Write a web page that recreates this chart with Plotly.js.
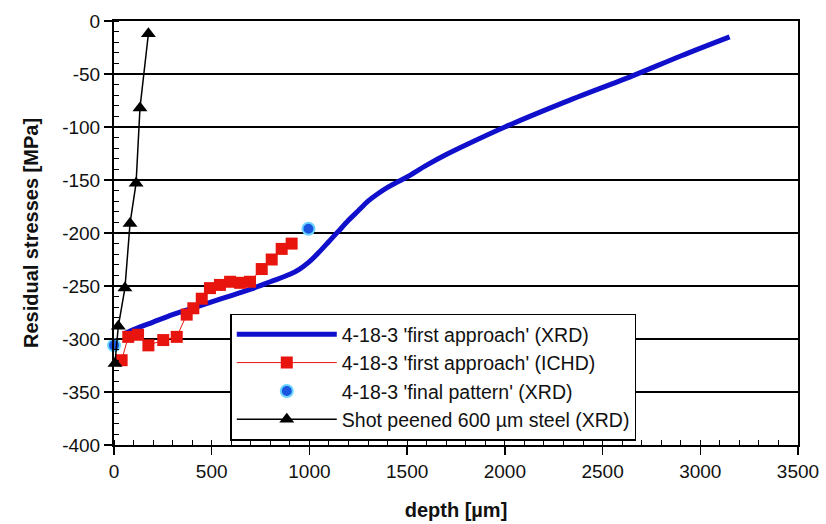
<!DOCTYPE html>
<html>
<head>
<meta charset="utf-8">
<script src="https://cdn.plot.ly/plotly-3.0.1.min.js"></script>
<style>html,body{margin:0;padding:0;background:#fff;}#chart{width:826px;height:524px;}</style>
</head>
<body>
<div id="chart"></div>
<script>
// Blue line: 4-18-3 'first approach' (XRD)
const xrdDepth = [50,100,200,300,400,500,600,700,800,900,950,1000,1050,1100,1150,1200,1250,1300,1350,1400,1450,1500,1600,1700,1800,2000,2300,2650,2900,3150];
const xrdStress = [-295,-291,-284,-277,-271,-265,-259,-253,-246,-239,-234,-227,-218,-208,-198,-188,-179,-170,-163,-157,-152,-147,-136,-126,-117,-100,-77,-52,-33,-15];
// Red squares: 4-18-3 'first approach' (ICHD)
const ichdDepth = [39,73,123,176,252,321,372,406,449,491,542,594,645,696,756,807,858,909];
const ichdStress = [-320,-298,-296,-306,-301,-298,-277,-271,-262,-252,-249,-246,-247,-246,-234,-225,-215,-210];
// Blue dots: 4-18-3 'final pattern' (XRD)
const finalDepth = [0,995];
const finalStress = [-306,-196];
// Black triangles: Shot peened 600 µm steel (XRD)
const shotDepth = [5,22,56,82,113,133,176];
const shotStress = [-323,-288,-252,-191,-153,-82,-12];
// Y tick labels (hyphen minus as in the original)
const yTickVals = [0,-50,-100,-150,-200,-250,-300,-350,-400];
const yTickText = ['0','-50','-100','-150','-200','-250','-300','-350','-400'];

const font = 'Arial, "Liberation Sans", sans-serif';

const traces = [
  {x: xrdDepth, y: xrdStress, mode: 'lines', name: "4-18-3 'first approach' (XRD)",
   line: {color: '#1010cc', width: 5, shape: 'spline', smoothing: 0.8}, cliponaxis: false},
  {x: ichdDepth, y: ichdStress, mode: 'lines+markers', name: "4-18-3 'first approach' (ICHD)",
   line: {color: '#e8150f', width: 1}, marker: {symbol: 'square', size: 12, color: '#e8150f'}, cliponaxis: false},
  {x: finalDepth, y: finalStress, mode: 'markers', name: "4-18-3 'final pattern' (XRD)",
   marker: {symbol: 'circle', size: 12, color: '#1a55e0', line: {color: '#6ad4ff', width: 2}}, cliponaxis: false},
  {x: shotDepth, y: shotStress, mode: 'lines+markers', name: 'Shot peened 600 µm steel (XRD)',
   line: {color: '#000', width: 1.5}, marker: {symbol: 'triangle-up', size: 13, color: '#000'}, cliponaxis: false}
];

const layout = {
  width: 826, height: 524,
  margin: {l: 114, r: 28, t: 21, b: 79},
  paper_bgcolor: '#fff', plot_bgcolor: '#fff',
  font: {family: font, size: 19, color: '#111'},
  showlegend: true,
  legend: {x: 0.17, y: 0.31, xanchor: 'left', yanchor: 'top', bgcolor: '#fff',
           bordercolor: '#000', borderwidth: 1.5, font: {family: font, size: 19.5, color: '#111'},
           itemwidth: 100, tracegroupgap: 0},
  xaxis: {range: [0, 3500], dtick: 500, tick0: 0, showgrid: false, zeroline: false,
          showline: true, linecolor: '#000', linewidth: 2, mirror: true,
          ticks: 'outside', ticklen: 8, tickwidth: 1.5, tickcolor: '#000',
          minor: {ticks: 'inside', dtick: 100, ticklen: 5, tickwidth: 1, tickcolor: '#000'},
          tickfont: {family: font, size: 19, color: '#111'},
          title: {text: '<b>depth [µm]</b>', font: {family: font, size: 20, color: '#111'}, standoff: 22}},
  yaxis: {range: [-400, 0], tickmode: 'array', tickvals: yTickVals, ticktext: yTickText,
          showgrid: true, gridcolor: '#000', gridwidth: 1.5,
          zeroline: false, showline: true, linecolor: '#000', linewidth: 2, mirror: true,
          ticks: 'outside', ticklen: 8, tickwidth: 1.5, tickcolor: '#000',
          minor: {ticks: 'inside', dtick: 10, tick0: 0, ticklen: 5, tickwidth: 1, tickcolor: '#000', showgrid: false},
          tickfont: {family: font, size: 19, color: '#111'},
          title: {text: '<b>Residual stresses [MPa]</b>', font: {family: font, size: 20, color: '#111'}, standoff: 18}}
};

Plotly.newPlot('chart', traces, layout, {staticPlot: true});
</script>
</body>
</html>
